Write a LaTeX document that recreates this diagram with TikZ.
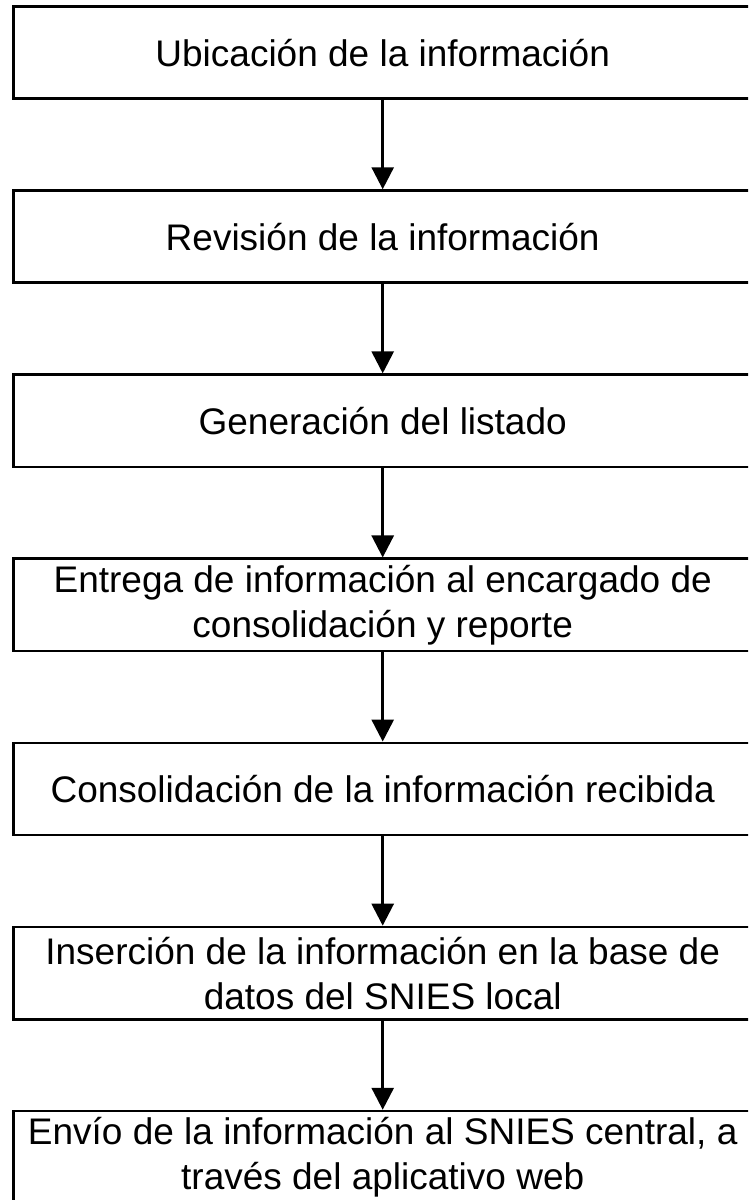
\documentclass[tikz,border=0pt]{standalone}
\usepackage{fontspec}
\setmainfont{Liberation Sans}
\usetikzlibrary{arrows.meta}
\begin{document}
\begin{tikzpicture}[x=1pt,y=-1pt,
  stepbox/.style={draw=black, line width=2.7pt, rectangle, fill=white,
    minimum width=738.4pt, minimum height=92.2pt, inner sep=0pt,
    align=center, font=\fontsize{37}{45}\selectfont},
  flowarrow/.style={draw=black, line width=2.8pt,
    -{Triangle[length=22pt,width=22pt]}}]
\clip (0,0) rectangle (748,1200);
\fill[white] (0,0) rectangle (748,1200);
\node[stepbox] (b1) at (382.7,52.6) {Ubicación de la información};
\node[stepbox] (b2) at (382.7,236.7) {Revisión de la información};
\node[stepbox] (b3) at (382.7,420.8) {Generación del listado};
\node[stepbox] (b4) at (382.7,604.9) {Entrega de información al encargado de\\consolidación y reporte};
\node[stepbox] (b5) at (382.7,789.0) {Consolidación de la información recibida};
\node[stepbox] (b6) at (382.7,973.1) {Inserción de la información en la base de\\datos del SNIES local};
\node[stepbox] (b7) at (382.7,1157.2) {Envío de la información al SNIES central, a\\través del aplicativo web};
\draw[flowarrow] (b1.south) -- (b2.north);
\draw[flowarrow] (b2.south) -- (b3.north);
\draw[flowarrow] (b3.south) -- (b4.north);
\draw[flowarrow] (b4.south) -- (b5.north);
\draw[flowarrow] (b5.south) -- (b6.north);
\draw[flowarrow] (b6.south) -- (b7.north);
\end{tikzpicture}
\end{document}
